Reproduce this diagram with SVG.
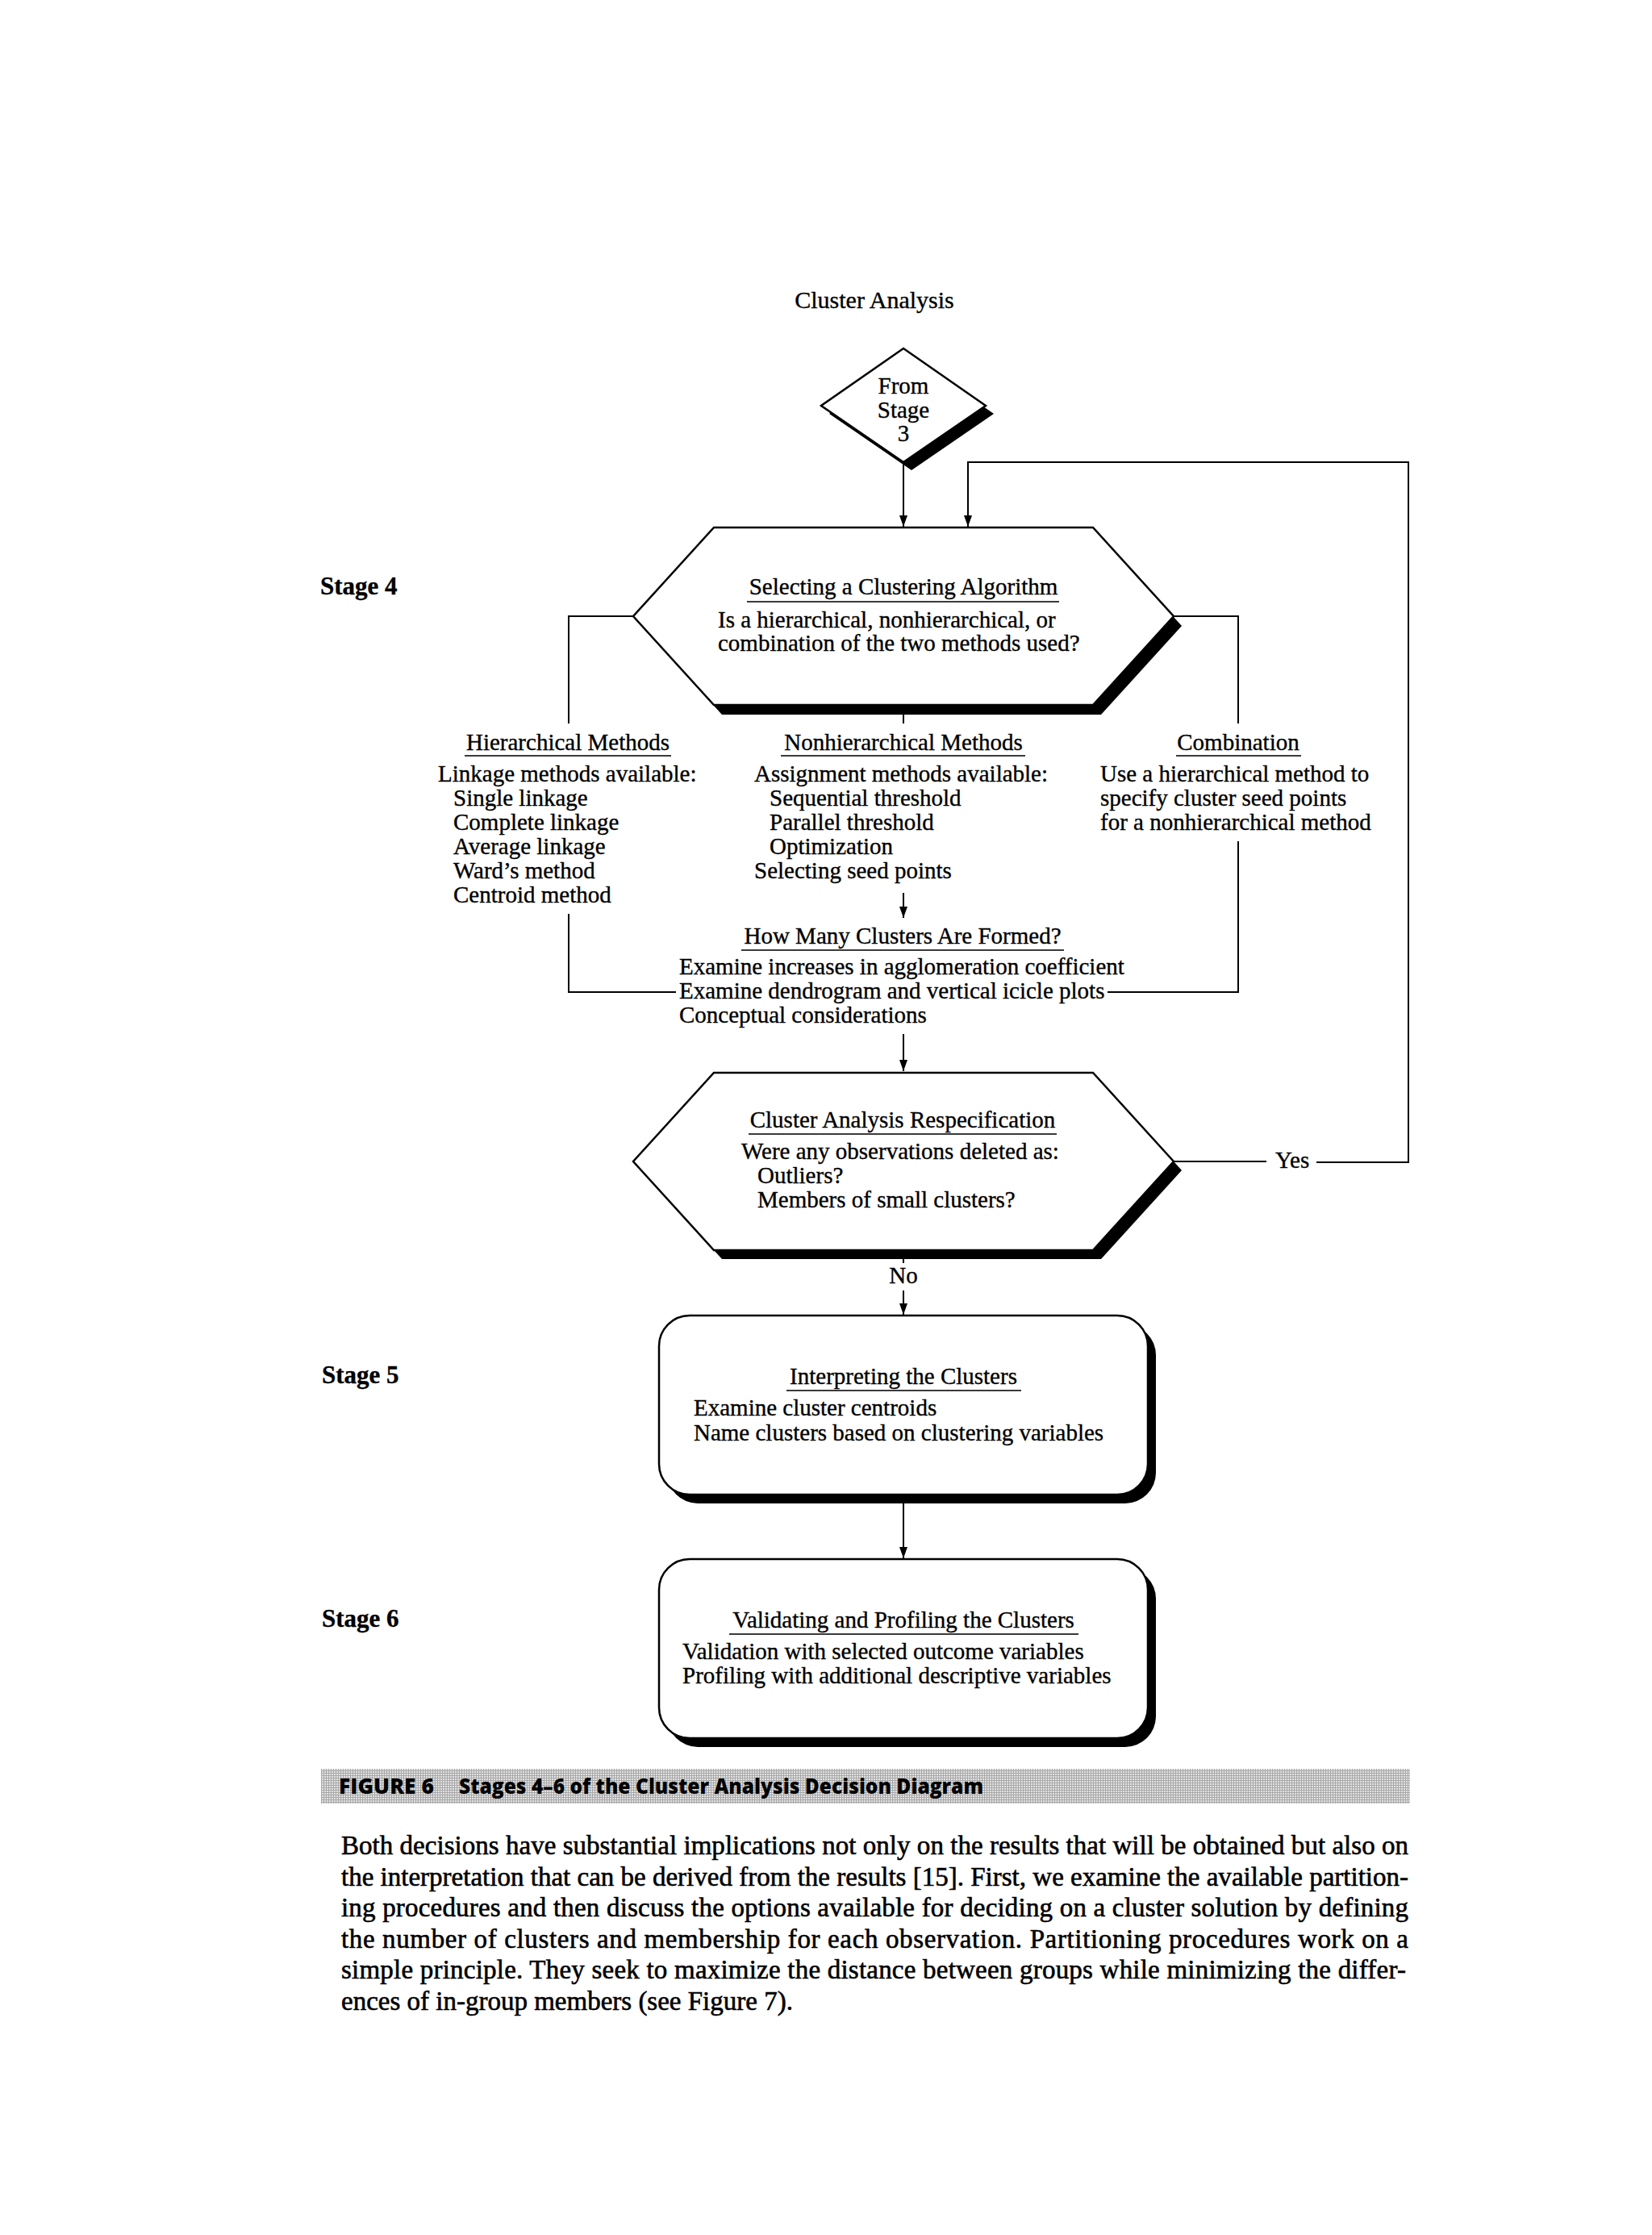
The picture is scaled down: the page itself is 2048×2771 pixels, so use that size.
<svg xmlns="http://www.w3.org/2000/svg" width="2048" height="2771" viewBox="0 0 2048 2771">
<style>
.t{font-family:"Liberation Serif","Times New Roman",serif;font-size:29px;fill:#000;stroke:#000;stroke-width:0.35}
.c{text-anchor:middle}
.st{font-weight:bold;font-size:31px}
.ttl{font-size:30px}
.ln{stroke:#000;stroke-width:2;fill:none}
.ul{stroke:#3a3a3a;stroke-width:2}
.arr{marker-end:url(#ah)}
.sh{fill:#000;stroke:none}
.shape{fill:#fff;stroke:#000;stroke-width:2.5}
.body{font-size:33px;stroke-width:0.6}
.cap{font-family:"Open Sans","Liberation Sans",sans-serif;font-weight:800;font-size:27px;fill:#000}
</style>
<defs>
<marker id="ah" markerUnits="userSpaceOnUse" markerWidth="14" markerHeight="10" refX="14" refY="5" orient="auto">
<path d="M0,0 L14,5 L0,10 z" fill="#000"/>
</marker>
<polygon id="hex" points="885,0 1355,0 1455,110 1355,220 885,220 785,110"/>
<polygon id="dia" points="1120,432 1222,503 1120,573 1018,503"/>
<rect id="rbox" x="817" y="0" width="606" height="222" rx="38" ry="38"/>
<pattern id="dots" width="3" height="3" patternUnits="userSpaceOnUse">
<rect width="3" height="3" fill="#a8a8a8"/>
<rect width="2" height="2" fill="#e2e2e2"/>
</pattern>
</defs>

<text class="t ttl c" x="1084" y="382">Cluster Analysis</text>

<g id="stages">
<text class="t st" x="397" y="737">Stage 4</text>
<text class="t st" x="399" y="1715">Stage 5</text>
<text class="t st" x="399" y="2017">Stage 6</text>
</g>

<g id="connectors">
<path class="ln arr" d="M1120,573 V653"/>
<path class="ln" d="M1456,1440 H1570"/>
<path class="ln arr" d="M1632,1441 H1746 V573 H1200 V653"/>
<path class="ln" d="M785,764 H705 V897"/>
<path class="ln" d="M1455,764 H1535 V897"/>
<path class="ln" d="M1120,874 V897"/>
<path class="ln arr" d="M1120,1107 V1138"/>
<path class="ln" d="M705,1133 V1230 H838"/>
<path class="ln" d="M1535,1043 V1230 H1373"/>
<path class="ln arr" d="M1120,1282 V1328"/>
<path class="ln" d="M1120,1551 V1566"/>
<path class="ln arr" d="M1120,1600 V1630"/>
<path class="ln arr" d="M1120,1853 V1932"/>
<text class="t" x="1581" y="1448">Yes</text>
<text class="t c" x="1120" y="1591">No</text>
</g>

<g id="from-stage3">
<use href="#dia" class="sh" transform="translate(10,10)"/>
<use href="#dia" class="shape"/>
<text class="t c" x="1120" y="488">From</text>
<text class="t c" x="1120" y="518">Stage</text>
<text class="t c" x="1120" y="547">3</text>
</g>

<g id="select-algorithm">
<use href="#hex" class="sh" transform="translate(10,666)"/>
<use href="#hex" class="shape" transform="translate(0,654)"/>
<text class="t c" x="1120" y="737">Selecting a Clustering Algorithm</text>
<line class="ul" x1="926" y1="746" x2="1313" y2="746"/>
<text class="t" x="890" y="778">Is a hierarchical, nonhierarchical, or</text>
<text class="t" x="890" y="807">combination of the two methods used?</text>
</g>

<g id="hierarchical">
<text class="t c" x="704" y="930">Hierarchical Methods</text>
<line class="ul" x1="576" y1="937" x2="832" y2="937"/>
<text class="t" x="543" y="969">Linkage methods available:</text>
<text class="t" x="562" y="999">Single linkage</text>
<text class="t" x="562" y="1029">Complete linkage</text>
<text class="t" x="562" y="1059">Average linkage</text>
<text class="t" x="562" y="1089">Ward’s method</text>
<text class="t" x="562" y="1119">Centroid method</text>
</g>

<g id="nonhierarchical">
<text class="t c" x="1120" y="930">Nonhierarchical Methods</text>
<line class="ul" x1="968" y1="937" x2="1271" y2="937"/>
<text class="t" x="935" y="969">Assignment methods available:</text>
<text class="t" x="954" y="999">Sequential threshold</text>
<text class="t" x="954" y="1029">Parallel threshold</text>
<text class="t" x="954" y="1059">Optimization</text>
<text class="t" x="935" y="1089">Selecting seed points</text>
</g>

<g id="combination">
<text class="t c" x="1535" y="930">Combination</text>
<line class="ul" x1="1458" y1="937" x2="1613" y2="937"/>
<text class="t" x="1364" y="969">Use a hierarchical method to</text>
<text class="t" x="1364" y="999">specify cluster seed points</text>
<text class="t" x="1364" y="1029">for a nonhierarchical method</text>
</g>

<g id="how-many">
<text class="t c" x="1119" y="1170">How Many Clusters Are Formed?</text>
<line class="ul" x1="919" y1="1178" x2="1319" y2="1178"/>
<text class="t" x="842" y="1208">Examine increases in agglomeration coefficient</text>
<text class="t" x="842" y="1238">Examine dendrogram and vertical icicle plots</text>
<text class="t" x="842" y="1268">Conceptual considerations</text>
</g>

<g id="respecification">
<use href="#hex" class="sh" transform="translate(10,1341)"/>
<use href="#hex" class="shape" transform="translate(0,1330)"/>
<text class="t c" x="1119" y="1398">Cluster Analysis Respecification</text>
<line class="ul" x1="928" y1="1406" x2="1310" y2="1406"/>
<text class="t" x="919" y="1437">Were any observations deleted as:</text>
<text class="t" x="939" y="1467">Outliers?</text>
<text class="t" x="939" y="1497">Members of small clusters?</text>
</g>

<g id="interpreting">
<use href="#rbox" class="sh" transform="translate(10,1642)"/>
<use href="#rbox" class="shape" transform="translate(0,1631)"/>
<text class="t c" x="1120" y="1716">Interpreting the Clusters</text>
<line class="ul" x1="975" y1="1724" x2="1266" y2="1724"/>
<text class="t" x="860" y="1755">Examine cluster centroids</text>
<text class="t" x="860" y="1786">Name clusters based on clustering variables</text>
</g>

<g id="validating">
<use href="#rbox" class="sh" transform="translate(10,1944)"/>
<use href="#rbox" class="shape" transform="translate(0,1933)"/>
<text class="t c" x="1120" y="2018">Validating and Profiling the Clusters</text>
<line class="ul" x1="904" y1="2026" x2="1337" y2="2026"/>
<text class="t" x="846" y="2057">Validation with selected outcome variables</text>
<text class="t" x="846" y="2087">Profiling with additional descriptive variables</text>
</g>

<g id="caption">
<rect x="398" y="2193" width="1350" height="43" fill="url(#dots)"/>
<text class="cap" x="420" y="2224" textLength="118" lengthAdjust="spacingAndGlyphs">FIGURE 6</text>
<text class="cap" x="569" y="2224" textLength="650" lengthAdjust="spacingAndGlyphs">Stages 4–6 of the Cluster Analysis Decision Diagram</text>
</g>

<g id="paragraph">
<text class="t body" x="423" y="2299" textLength="1323" lengthAdjust="spacing">Both decisions have substantial implications not only on the results that will be obtained but also on</text>
<text class="t body" x="423" y="2337.5" textLength="1323" lengthAdjust="spacing">the interpretation that can be derived from the results [15]. First, we examine the available partition-</text>
<text class="t body" x="423" y="2376" textLength="1323" lengthAdjust="spacing">ing procedures and then discuss the options available for deciding on a cluster solution by defining</text>
<text class="t body" x="423" y="2414.5" textLength="1323" lengthAdjust="spacing">the number of clusters and membership for each observation. Partitioning procedures work on a</text>
<text class="t body" x="423" y="2453" textLength="1320" lengthAdjust="spacing">simple principle. They seek to maximize the distance between groups while minimizing the differ-</text>
<text class="t body" x="423" y="2491.5">ences of in-group members (see Figure 7).</text>
</g>
</svg>
